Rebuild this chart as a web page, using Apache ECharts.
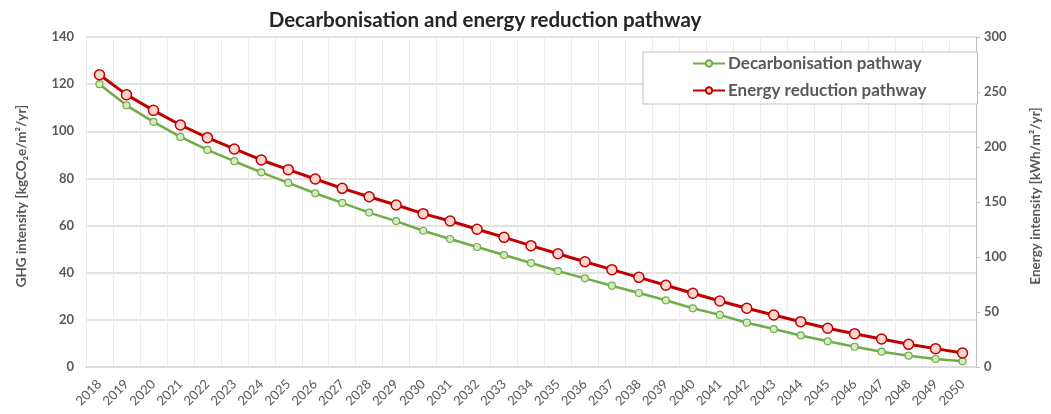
<!DOCTYPE html>
<html>
<head>
<meta charset="utf-8">
<script src="https://cdn.jsdelivr.net/npm/echarts@6/dist/echarts.min.js"></script>
<style>html,body{margin:0;padding:0;background:#fff}#c{width:1051px;height:414px}</style>
</head>
<body>
<div id="c"></div>
<script>
const years = ['2018','2019','2020','2021','2022','2023','2024','2025','2026','2027','2028','2029','2030','2031','2032','2033','2034','2035','2036','2037','2038','2039','2040','2041','2042','2043','2044','2045','2046','2047','2048','2049','2050'];
const decarbonisation = [120,111,104,97.6,92.1,87.3,82.6,78.1,73.7,69.6,65.5,61.9,57.8,54.3,50.9,47.5,44.1,40.7,37.6,34.5,31.4,28.3,24.9,22.1,18.8,16.1,13.4,10.9,8.6,6.5,4.8,3.4,2.4];
const energyReduction = [265.7,247.6,233.3,220,208.5,198.2,188.2,179.4,170.9,162.4,154.8,147.3,139.4,132.7,125.2,117.9,110.3,103,95.7,88.5,81.5,74.3,67,60,53.4,47.3,41.2,35.2,30.3,25.5,20.6,16.7,12.7];
const leftTicks = {min:0, max:140, interval:20};
const rightTicks = {min:0, max:300, interval:50};

const FONT = 'Lato';
const GREY = '#595959';
const chart = echarts.init(document.getElementById('c'));
chart.setOption({
  animation:false,
  backgroundColor:'#fff',
  textStyle:{fontFamily:FONT},
  title:{
    text:'Decarbonisation and energy reduction pathway',
    left:480, top:5, textAlign:'center',
    textStyle:{fontFamily:FONT, fontSize:20.5, fontWeight:'bold', color:'#262626'}
  },
  legend:{
    orient:'vertical', left:643, top:52,
    padding:[3,51,5,49], itemGap:10, itemWidth:32, itemHeight:8,
    backgroundColor:'#fff', borderColor:'#bfbfbf', borderWidth:1,
    textStyle:{fontFamily:FONT, fontSize:17, fontWeight:'bold', color:GREY, padding:[0,0,0,-2]},
    data:['Decarbonisation pathway','Energy reduction pathway']
  },
  grid:{left:86, right:68, top:37, bottom:47, containLabel:false},
  xAxis:{
    type:'category', data:years, boundaryGap:true,
    axisLine:{lineStyle:{color:'#d9d9d9', width:1.5}},
    axisTick:{show:false},
    axisLabel:{rotate:45, interval:0, fontSize:13, color:GREY, margin:15, fontFamily:FONT},
    splitLine:{show:true, interval:0, lineStyle:{color:'#ececec', width:1}}
  },
  yAxis:[{
    type:'value', min:leftTicks.min, max:leftTicks.max, interval:leftTicks.interval,
    name:'GHG intensity [kgCO₂e/m²/yr]', nameLocation:'middle', nameGap:57, nameRotate:90,
    nameTextStyle:{fontFamily:FONT, fontSize:13.5, fontWeight:'bold', color:GREY, padding:[0,0,0,12]},
    axisLine:{show:false}, axisTick:{show:false},
    axisLabel:{fontSize:13, fontWeight:'bold', color:GREY, margin:12},
    splitLine:{lineStyle:{color:'#d9d9d9', width:1.5}}
  },{
    type:'value', position:'right', min:rightTicks.min, max:rightTicks.max, interval:rightTicks.interval,
    name:'Energy intensity [kWh/m²/yr]', nameLocation:'middle', nameGap:53, nameRotate:90,
    nameTextStyle:{fontFamily:FONT, fontSize:13.5, fontWeight:'bold', color:GREY, padding:[0,0,0,12]},
    axisLine:{show:true, lineStyle:{color:'#bfbfbf', width:1}},
    axisTick:{show:true, length:4, lineStyle:{color:'#bfbfbf'}},
    axisLabel:{fontSize:13, fontWeight:'bold', color:GREY, margin:8},
    splitLine:{show:false}
  }],
  series:[{
    name:'Decarbonisation pathway', type:'line', yAxisIndex:0, data:decarbonisation,
    symbol:'circle', symbolSize:7, smooth:false,
    lineStyle:{color:'#70ad47', width:2.5},
    itemStyle:{color:'#d5ecc4', borderColor:'#70ad47', borderWidth:1.2},
    z:3
  },{
    name:'Energy reduction pathway', type:'line', yAxisIndex:1, data:energyReduction,
    symbol:'circle', symbolSize:10, smooth:false,
    lineStyle:{color:'#c00000', width:3},
    itemStyle:{color:'#fcd5cf', borderColor:'#c00000', borderWidth:1.5},
    z:4
  }]
});
</script>
</body>
</html>
